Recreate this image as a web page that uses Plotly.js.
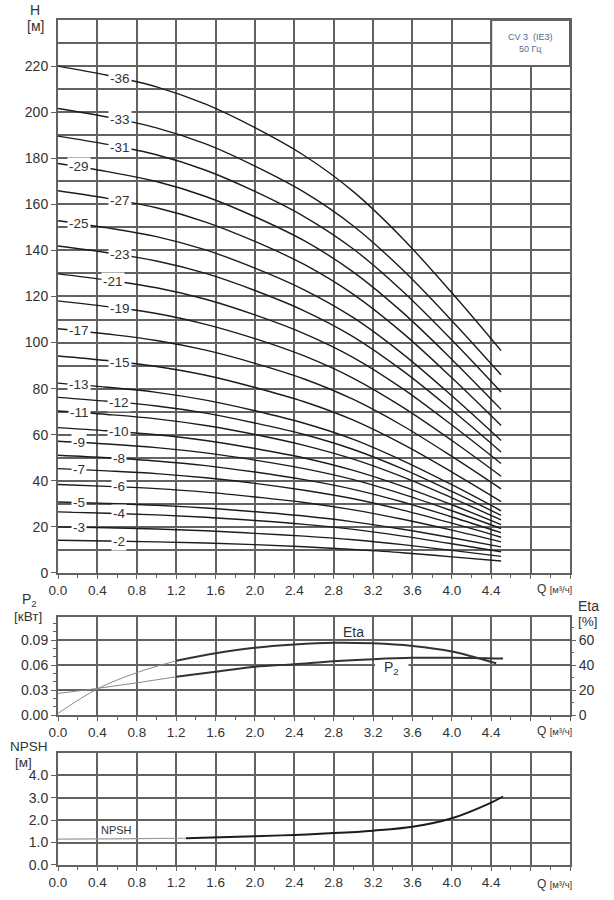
<!DOCTYPE html>
<html>
<head>
<meta charset="utf-8">
<script src="https://cdn.plot.ly/plotly-3.0.1.min.js"></script>
<style>html,body{margin:0;padding:0;background:#fff;}</style>
</head>
<body>
<div id="chart" style="width:614px;height:900px;"></div>
<script>
// ---------- DATA ----------
const Q = [0, 0.5, 1.0, 1.5, 2.0, 2.5, 3.0, 3.5, 4.0, 4.5];
const stages = [36, 33, 31, 29, 27, 25, 23, 21, 19, 17, 15, 13, 12, 11, 10, 9, 8, 7, 6, 5, 4, 3, 2];
const H36 = [220, 216, 211, 203.5, 193.3, 181.2, 165.5, 145.2, 121.6, 96.5];
const H33 = [201.6, 197.9, 193.2, 186.2, 176.6, 165.3, 150.6, 131.6, 109.5, 86];
const H31 = [189.6, 186.0, 181.5, 174.8, 165.6, 154.7, 140.6, 122.3, 101.1, 78.5];
const H29 = [177.7, 174.2, 169.9, 163.4, 154.6, 144.2, 130.6, 113.1, 92.7, 71];
const H27 = [165.9, 162.6, 158.5, 152.3, 143.9, 133.9, 120.9, 104.2, 84.7, 64];
const H25 = [152.9, 149.8, 146.0, 140.2, 132.3, 122.9, 110.8, 95.1, 76.9, 57.5];
const H23 = [141.9, 139.0, 135.4, 130.0, 122.6, 113.8, 102.5, 87.8, 70.7, 52.5];
const H21 = [129.8, 127.1, 123.8, 118.8, 112.0, 103.9, 93.5, 80.0, 64.2, 47.5];
const H19 = [118.1, 115.6, 112.6, 107.9, 101.7, 94.2, 84.5, 72.0, 57.5, 42];
const H17 = [106, 103.7, 100.9, 96.7, 91.0, 84.2, 75.3, 63.9, 50.6, 36.5];
const H15 = [94.2, 92.2, 89.6, 85.8, 80.5, 74.3, 66.3, 55.9, 43.8, 31];
const H13 = [82.4, 80.6, 78.4, 75.0, 70.4, 65.0, 58.0, 48.8, 38.3, 27];
const H12 = [76.2, 74.5, 72.5, 69.4, 65.1, 60.1, 53.6, 45.2, 35.4, 25];
const H11 = [70.3, 68.8, 66.9, 64.0, 60.1, 55.4, 49.4, 41.7, 32.6, 23];
const H10 = [63.1, 61.7, 60.0, 57.5, 54.0, 49.9, 44.5, 37.6, 29.6, 21];
const H9  = [57.2, 56.0, 54.4, 52.1, 49.0, 45.3, 40.5, 34.2, 27.0, 19.3];
const H8  = [51.1, 50.0, 48.6, 46.6, 43.8, 40.5, 36.3, 30.8, 24.3, 17.5];
const H7  = [45.3, 44.3, 43.1, 41.3, 38.9, 35.9, 32.2, 27.3, 21.6, 15.5];
const H6  = [38.4, 37.6, 36.6, 35.1, 33.0, 30.6, 27.4, 23.3, 18.6, 13.5];
const H5  = [30.8, 30.2, 29.4, 28.2, 26.6, 24.7, 22.2, 19.0, 15.3, 11.3];
const H4  = [26.5, 25.9, 25.2, 24.2, 22.8, 21.1, 18.9, 16.0, 12.7, 9.2];
const H3  = [20, 19.6, 19.1, 18.3, 17.2, 16.0, 14.4, 12.3, 9.8, 7.2];
const H2  = [14.2, 13.9, 13.5, 13.0, 12.3, 11.4, 10.2, 8.8, 7.0, 5.2];
const headCurves = [H36, H33, H31, H29, H27, H25, H23, H21, H19, H17, H15, H13, H12, H11, H10, H9, H8, H7, H6, H5, H4, H3, H2];
const labelQ = [0.63, 0.63, 0.63, 0.21, 0.63, 0.21, 0.63, 0.56, 0.63, 0.21, 0.63, 0.21, 0.62, 0.22, 0.62, 0.21, 0.62, 0.21, 0.62, 0.21, 0.62, 0.21, 0.62];

const Qeta = [0, 0.4, 0.8, 1.2, 1.6, 2.0, 2.4, 2.8, 3.2, 3.6, 4.0, 4.45];
const eta  = [1.3, 21, 34, 43.5, 49.5, 54, 56.6, 58, 57.5, 55.4, 51, 41.5];
const Qp2  = [0, 0.4, 0.8, 1.2, 1.6, 2.0, 2.4, 2.8, 3.2, 3.6, 4.0, 4.52];
const p2   = [0.026, 0.032, 0.0388, 0.046, 0.052, 0.058, 0.0612, 0.0648, 0.0672, 0.0688, 0.069, 0.068];

const Qnpsh = [0, 0.4, 0.8, 1.3, 2.0, 2.4, 2.8, 3.2, 3.6, 4.0, 4.4, 4.52];
const npsh  = [1.15, 1.16, 1.17, 1.19, 1.28, 1.34, 1.42, 1.53, 1.7, 2.08, 2.78, 3.05];

const qTicks = [0, 0.4, 0.8, 1.2, 1.6, 2.0, 2.4, 2.8, 3.2, 3.6, 4.0, 4.4, 4.8, 5.2];
const qTickText = ['0.0','0.4','0.8','1.2','1.6','2.0','2.4','2.8','3.2','3.6','4.0','4.4','',''];
const hTicks = [0, 20, 40, 60, 80, 100, 120, 140, 160, 180, 200, 220];
const p2Ticks = [0, 0.03, 0.06, 0.09];
const p2TickText = ['0.00', '0.03', '0.06', '0.09'];
const etaTicks = [0, 20, 40, 60];
const npshTicks = [0, 1, 2, 3, 4];
const npshTickText = ['0.0', '1.0', '2.0', '3.0', '4.0'];

// ---------- STYLE ----------
const GRID = '#626262';
const GW = 2;
const FONT = 'Liberation Sans, Arial, sans-serif';
const PX = x => (x - 58) / 512;
const PY = y => (865 - y) / 845;

function seq(a, b, step) {
  const out = [];
  for (let v = a; v <= b + 1e-9; v += step) out.push(Math.round(v * 1000) / 1000);
  return out;
}

function xAxis(anchor) {
  return {
    anchor: anchor, domain: [0, 1], range: [0, 5.2],
    tickmode: 'array', tickvals: qTicks, ticktext: qTickText,
    ticks: 'outside', ticklen: 4, tickcolor: GRID, tickwidth: 1,
    showgrid: true, gridcolor: GRID, gridwidth: GW,
    showline: true, linecolor: GRID, linewidth: GW, mirror: true,
    zeroline: false, tickfont: {size: 13.5, color: '#333'},
    minor: {tickmode: 'array', tickvals: seq(0.2, 5.0, 0.4), ticks: 'outside', ticklen: 3, tickcolor: GRID, showgrid: false}
  };
}

function interp(xs, ys, x) {
  for (let i = 0; i < xs.length - 1; i++) {
    if (x >= xs[i] && x <= xs[i + 1]) {
      const t = (x - xs[i]) / (xs[i + 1] - xs[i]);
      return ys[i] + t * (ys[i + 1] - ys[i]);
    }
  }
  return ys[ys.length - 1];
}

// ---------- TRACES ----------
const traces = [];
headCurves.forEach((h) => {
  traces.push({x: Q, y: h, xaxis: 'x', yaxis: 'y', mode: 'lines',
    line: {color: '#1c1c1c', width: 1.4, shape: 'spline', smoothing: 1}, hoverinfo: 'skip'});
});

traces.push({x: Qeta.slice(0, 4), y: eta.slice(0, 4), xaxis: 'x2', yaxis: 'y3', mode: 'lines',
  line: {color: '#8a8a8a', width: 1, shape: 'spline'}, hoverinfo: 'skip'});
traces.push({x: Qeta.slice(3), y: eta.slice(3), xaxis: 'x2', yaxis: 'y3', mode: 'lines',
  line: {color: '#333', width: 2, shape: 'spline'}, hoverinfo: 'skip'});
traces.push({x: Qp2.slice(0, 4), y: p2.slice(0, 4), xaxis: 'x2', yaxis: 'y2', mode: 'lines',
  line: {color: '#8a8a8a', width: 1, shape: 'spline'}, hoverinfo: 'skip'});
traces.push({x: Qp2.slice(3), y: p2.slice(3), xaxis: 'x2', yaxis: 'y2', mode: 'lines',
  line: {color: '#333', width: 2, shape: 'spline'}, hoverinfo: 'skip'});

traces.push({x: Qnpsh.slice(0, 4), y: npsh.slice(0, 4), xaxis: 'x3', yaxis: 'y4', mode: 'lines',
  line: {color: '#9a9a9a', width: 1.2, shape: 'spline'}, hoverinfo: 'skip'});
traces.push({x: Qnpsh.slice(3), y: npsh.slice(3), xaxis: 'x3', yaxis: 'y4', mode: 'lines',
  line: {color: '#1c1c1c', width: 2, shape: 'spline'}, hoverinfo: 'skip'});

// ---------- ANNOTATIONS ----------
const ann = [];
function pAnn(text, x, y, size) {
  ann.push({text: text, x: PX(x), y: PY(y), xref: 'paper', yref: 'paper',
    xanchor: 'center', yanchor: 'middle',
    showarrow: false, font: {size: size, color: '#333', family: FONT}});
}
pAnn('H', 35, 10, 14);
pAnn('[м]', 35, 26, 14);
pAnn('P<sub>2</sub>', 29, 600, 14);
pAnn('[кВт]', 28, 616, 13.5);
pAnn('Eta', 588, 606, 14);
pAnn('[%]', 588, 621, 13.5);
pAnn('NPSH', 29, 746, 13.5);
pAnn('[м]', 23, 762, 13.5);
const qLabel = 'Q <span style="font-size:9.5px">[м³/ч]</span>';
pAnn(qLabel, 554, 589, 12);
pAnn(qLabel, 554, 731, 12);
pAnn(qLabel, 554, 884, 12);

ann.push({text: 'CV 3  (IE3)<br>50 Гц', x: 4.8, y: 230, xref: 'x', yref: 'y', showarrow: false,
  xanchor: 'center', yanchor: 'middle', font: {size: 9, color: '#4f6a94', family: FONT}});

stages.forEach((n, i) => {
  ann.push({text: '-' + n, x: labelQ[i], y: interp(Q, headCurves[i], labelQ[i]), xref: 'x', yref: 'y',
    xanchor: 'center', yanchor: 'middle',
    showarrow: false, bgcolor: '#fff', borderpad: 1, font: {size: 13.5, color: '#333', family: FONT}});
});

ann.push({text: 'Eta', x: 3.0, y: 0.0995, xref: 'x2', yref: 'y2', showarrow: false,
  xanchor: 'center', yanchor: 'middle', font: {size: 14, color: '#333', family: FONT}});
ann.push({text: 'P<sub>2</sub>', x: 3.39, y: 0.0564, xref: 'x2', yref: 'y2', showarrow: false,
  xanchor: 'center', yanchor: 'middle', font: {size: 14, color: '#333', family: FONT}});
ann.push({text: 'NPSH', x: 0.59, y: 1.55, xref: 'x3', yref: 'y4', showarrow: false,
  xanchor: 'center', yanchor: 'middle', font: {size: 11, color: '#333', family: FONT}});

// ---------- LAYOUT ----------
const yCommon = {
  ticks: 'outside', ticklen: 5, tickcolor: GRID, tickwidth: 1,
  showgrid: true, gridcolor: GRID, gridwidth: GW,
  showline: true, linecolor: GRID, linewidth: GW, mirror: true,
  zeroline: false, tickfont: {size: 14, color: '#333'}
};

const layout = {
  width: 614, height: 900,
  margin: {l: 58, r: 44, t: 20, b: 35},
  paper_bgcolor: '#fff', plot_bgcolor: '#fff',
  showlegend: false,
  font: {family: FONT, size: 13, color: '#333'},
  xaxis: xAxis('y'),
  yaxis: Object.assign({}, yCommon, {
    domain: [0.3456, 1], range: [0, 240], anchor: 'x',
    tickmode: 'array', tickvals: hTicks,
    minor: {tickmode: 'array', tickvals: seq(10, 240, 20), ticks: '', showgrid: true, gridcolor: GRID, gridwidth: GW}
  }),
  xaxis2: xAxis('y2'),
  yaxis2: Object.assign({}, yCommon, {
    domain: [0.1775, 0.2935], range: [0, 0.118], anchor: 'x2',
    tickmode: 'array', tickvals: p2Ticks, ticktext: p2TickText,
    minor: {tickmode: 'array', tickvals: [0.01, 0.02, 0.04, 0.05, 0.07, 0.08, 0.10, 0.11], ticks: 'outside', ticklen: 3, tickcolor: GRID, showgrid: false}
  }),
  yaxis3: {
    overlaying: 'y2', side: 'right', anchor: 'x2', range: [0, 78.67],
    tickmode: 'array', tickvals: etaTicks,
    ticks: 'outside', ticklen: 5, tickcolor: GRID, showgrid: false, showline: false, zeroline: false,
    tickfont: {size: 14, color: '#333'},
    minor: {tickmode: 'array', tickvals: [10, 30, 50, 70], ticks: 'outside', ticklen: 3, tickcolor: GRID, showgrid: false}
  },
  xaxis3: xAxis('y4'),
  yaxis4: Object.assign({}, yCommon, {
    domain: [0, 0.1329], range: [0, 5], anchor: 'x3',
    tickmode: 'array', tickvals: npshTicks, ticktext: npshTickText
  }),
  shapes: [
    {type: 'rect', xref: 'x', yref: 'y', x0: 4.4, x1: 5.2, y0: 220, y1: 240,
      fillcolor: '#fff', line: {color: GRID, width: GW}, layer: 'above'},
    {type: 'rect', xref: 'x2', yref: 'y2', x0: 3.22, x1: 3.56, y0: 0.0585, y1: 0.0615,
      fillcolor: '#fff', line: {width: 0}, layer: 'between'}
  ],
  annotations: ann
};

Plotly.newPlot('chart', traces, layout, {staticPlot: true, displayModeBar: false});
</script>
</body>
</html>
